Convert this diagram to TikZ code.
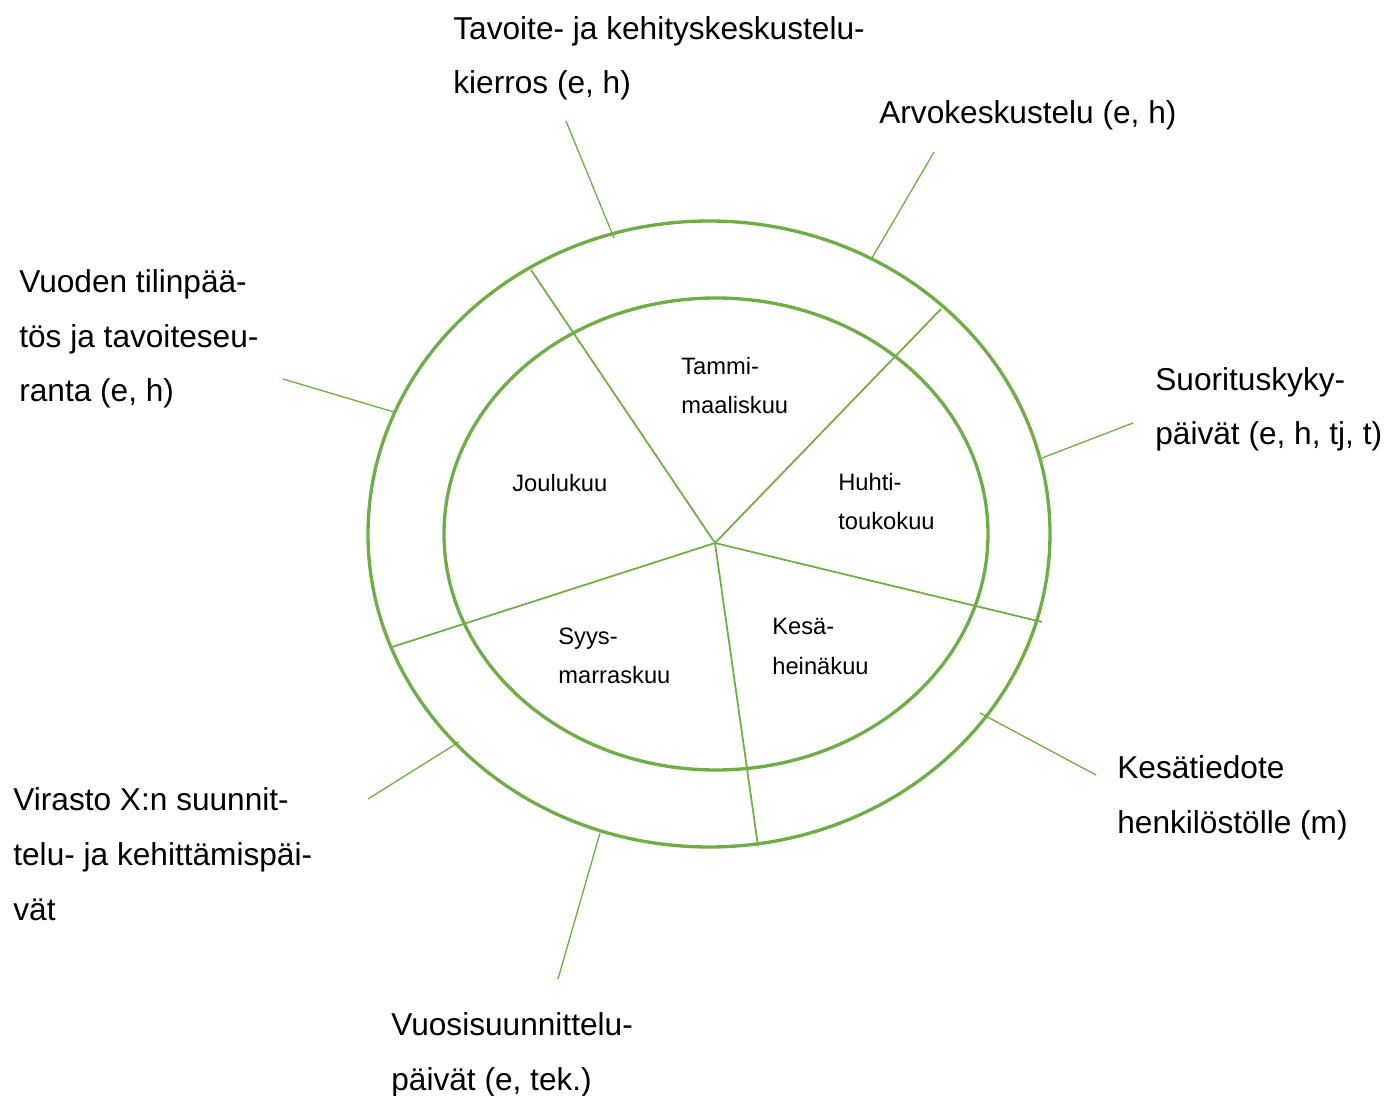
\documentclass[tikz,border=0pt]{standalone}
\usepackage{fontspec}
\setmainfont{Liberation Sans}
\definecolor{leafgreen}{RGB}{112,173,71}
\tikzset{
  ring/.style={line width=1.9pt, leafgreen},
  spoke/.style={line width=1pt, leafgreen},
  leader/.style={line width=0.75pt, leafgreen},
  biglabel/.style={anchor=base west, inner sep=0pt, align=left, font=\fontsize{18}{31.2}\selectfont},
  monthlabel/.style={anchor=base west, inner sep=0pt, align=left, font=\fontsize{13.5}{22.7}\selectfont}
}
\begin{document}
\begin{tikzpicture}
\useasboundingbox (0,0) rectangle (27.740,21.900);
\draw[ring] (14.180,11.220) ellipse (6.820 and 6.260);
\draw[ring] (14.320,11.220) ellipse (5.440 and 4.720);
\coordinate (hub) at (14.300,11.040);
\coordinate (s1) at (10.620,16.500);
\coordinate (s2) at (18.820,15.720);
\coordinate (s3) at (20.840,9.460);
\coordinate (s4) at (15.160,4.980);
\coordinate (s5) at (7.840,8.960);
\draw[spoke] (hub) -- (s1);
\draw[spoke] (hub) -- (s2);
\draw[spoke] (hub) -- (s3);
\draw[spoke] (hub) -- (s4);
\draw[spoke] (hub) -- (s5);
\node[monthlabel] (tammi) at (13.620,13.620) {Tammi-\\maaliskuu};
\node[monthlabel] (huhti) at (16.760,11.300) {Huhti-\\toukokuu};
\node[monthlabel] (kesa) at (15.440,8.420) {Kesä-\\heinäkuu};
\node[monthlabel] (syys) at (11.160,8.220) {Syys-\\marraskuu};
\node[monthlabel] (joulu) at (10.240,12.060) {Joulukuu};
\node[biglabel] (tavoite) at (9.060,20.020) {Tavoite- ja kehityskeskustelu-\\kierros (e, h)};
\node[biglabel] (arvo) at (17.580,19.420) {Arvokeskustelu (e, h)};
\node[biglabel] (suoritus) at (23.100,13.000) {Suorituskyky-\\päivät (e, h, tj, t)};
\node[biglabel] (kesatiedote) at (22.340,5.240) {Kesätiedote\\henkilöstölle (m)};
\node[biglabel] (vuosisuunnittelu) at (7.820,0.100) {Vuosisuunnittelu-\\päivät (e, tek.)};
\node[biglabel] (virasto) at (0.260,3.500) {Virasto X:n suunnit-\\telu- ja kehittämispäi-\\vät};
\node[biglabel] (tilinpaatos) at (0.380,13.860) {Vuoden tilinpää-\\tös ja tavoiteseu-\\ranta (e, h)};
\coordinate (tavoite-a) at (11.320,19.480);
\coordinate (tavoite-b) at (12.280,17.140);
\coordinate (arvo-a) at (18.680,18.860);
\coordinate (arvo-b) at (17.440,16.740);
\coordinate (suoritus-a) at (22.660,13.440);
\coordinate (suoritus-b) at (20.840,12.740);
\coordinate (kesatiedote-a) at (21.920,6.400);
\coordinate (kesatiedote-b) at (19.600,7.640);
\coordinate (vuosi-a) at (11.160,2.320);
\coordinate (vuosi-b) at (12.000,5.240);
\coordinate (virasto-a) at (7.360,5.920);
\coordinate (virasto-b) at (9.180,7.060);
\coordinate (tilinpaatos-a) at (5.660,14.320);
\coordinate (tilinpaatos-b) at (7.880,13.660);
\draw[leader] (tavoite-a) -- (tavoite-b);
\draw[leader] (arvo-a) -- (arvo-b);
\draw[leader] (suoritus-a) -- (suoritus-b);
\draw[leader] (kesatiedote-a) -- (kesatiedote-b);
\draw[leader] (vuosi-a) -- (vuosi-b);
\draw[leader] (virasto-a) -- (virasto-b);
\draw[leader] (tilinpaatos-a) -- (tilinpaatos-b);
\end{tikzpicture}
\end{document}
